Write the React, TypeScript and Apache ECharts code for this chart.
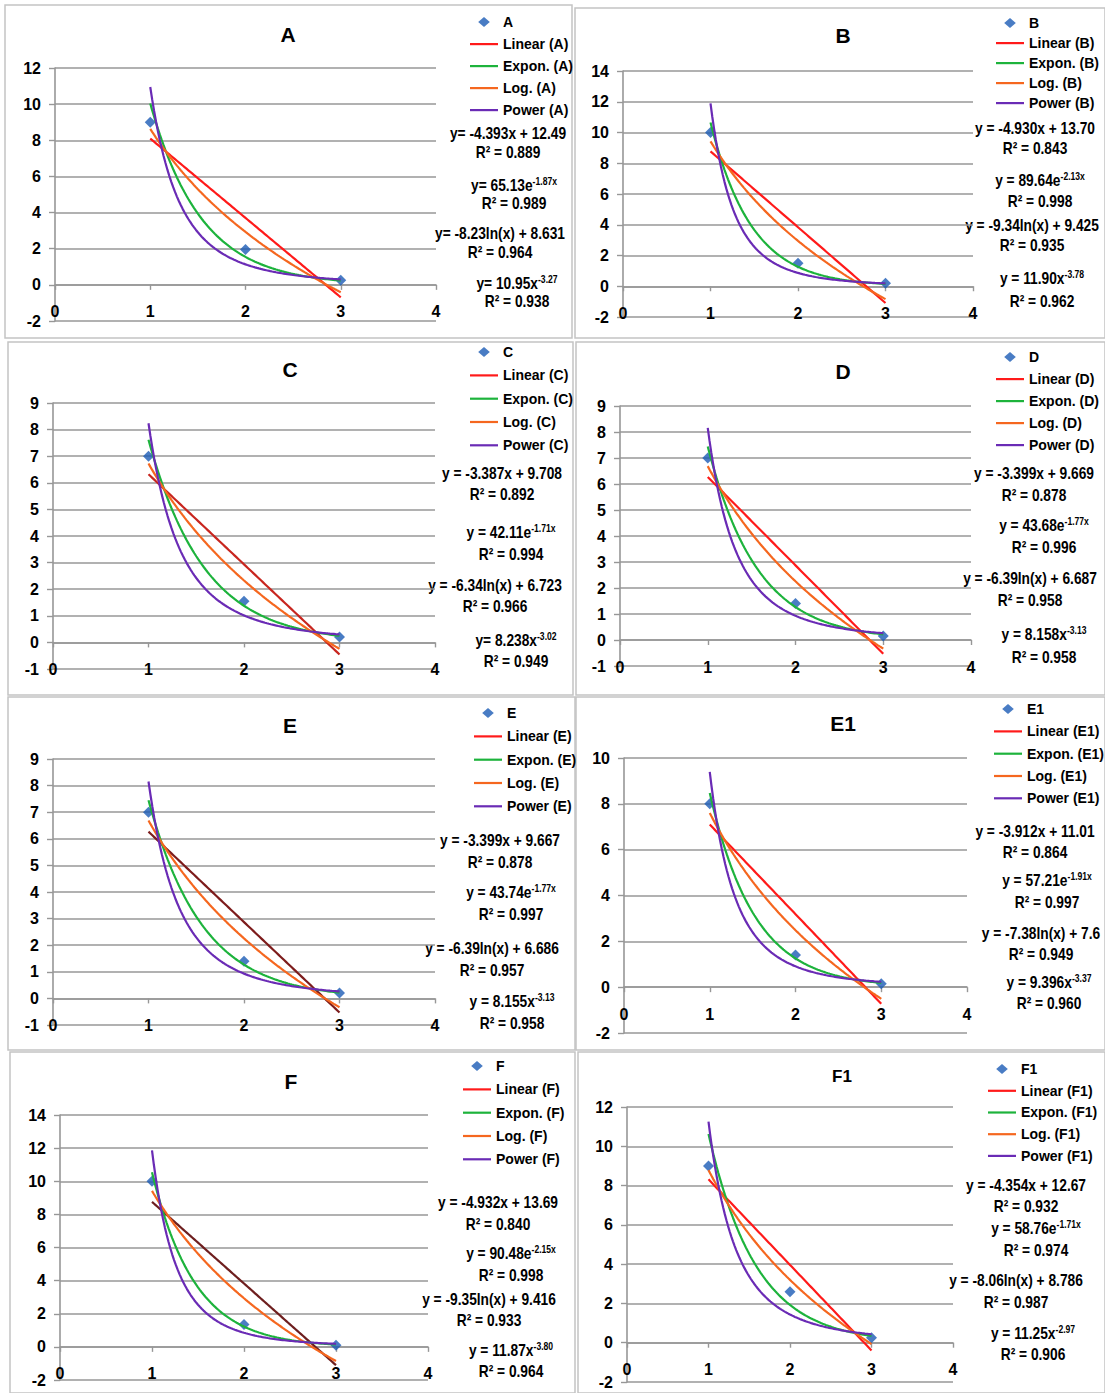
import React, { useEffect, useRef } from "react";
import * as echarts from "echarts";

// ---------- DATA ----------
const panelNames = ["A", "B", "C", "D", "E", "E1", "F", "F1"];
const xPoints = [1, 2, 3];
const pointsA = [9, 1.95, 0.25];
const pointsB = [10, 1.5, 0.2];
const pointsC = [7, 1.55, 0.2];
const pointsD = [7, 1.4, 0.15];
const pointsE = [7, 1.4, 0.2];
const pointsE1 = [8, 1.4, 0.15];
const pointsF = [10, 1.35, 0.1];
const pointsF1 = [9, 2.6, 0.25];
const panelPoints = [pointsA, pointsB, pointsC, pointsD, pointsE, pointsE1, pointsF, pointsF1];

const yMin = [-2, -2, -1, -1, -1, -2, -2, -2];
const yMax = [12, 14, 9, 9, 9, 10, 14, 12];
const yStep = [2, 2, 1, 1, 1, 2, 2, 2];
const xMin = 0;
const xMax = 4;
const xStep = 1;

// trendline coefficients as displayed
const linearSlope = [-4.393, -4.93, -3.387, -3.399, -3.399, -3.912, -4.932, -4.354];
const linearIntercept = [12.49, 13.7, 9.708, 9.669, 9.667, 11.01, 13.69, 12.67];
const expCoef = [65.13, 89.64, 42.11, 43.68, 43.74, 57.21, 90.48, 58.76];
const expRate = [-1.87, -2.13, -1.71, -1.77, -1.77, -1.91, -2.15, -1.71];
const logCoef = [-8.23, -9.34, -6.34, -6.39, -6.39, -7.38, -9.35, -8.06];
const logConst = [8.631, 9.425, 6.723, 6.687, 6.686, 7.6, 9.416, 8.786];
const powCoef = [10.95, 11.9, 8.238, 8.158, 8.155, 9.396, 11.87, 11.25];
const powExp = [-3.27, -3.78, -3.02, -3.13, -3.13, -3.37, -3.8, -2.97];

const r2Linear = ["0.889", "0.843", "0.892", "0.878", "0.878", "0.864", "0.840", "0.932"];
const r2Exp = ["0.989", "0.998", "0.994", "0.996", "0.997", "0.997", "0.998", "0.974"];
const r2Log = ["0.964", "0.935", "0.966", "0.958", "0.957", "0.949", "0.933", "0.987"];
const r2Pow = ["0.938", "0.962", "0.949", "0.958", "0.958", "0.960", "0.964", "0.906"];

const eqLinear = ["y= -4.393x + 12.49", "y = -4.930x + 13.70", "y = -3.387x + 9.708", "y = -3.399x + 9.669", "y = -3.399x + 9.667", "y = -3.912x + 11.01", "y = -4.932x + 13.69", "y = -4.354x + 12.67"];
const eqExpBase = ["y= 65.13e", "y = 89.64e", "y = 42.11e", "y = 43.68e", "y = 43.74e", "y = 57.21e", "y = 90.48e", "y = 58.76e"];
const eqExpSup = ["-1.87x", "-2.13x", "-1.71x", "-1.77x", "-1.77x", "-1.91x", "-2.15x", "-1.71x"];
const eqLog = ["y= -8.23ln(x) + 8.631", "y = -9.34ln(x) + 9.425", "y = -6.34ln(x) + 6.723", "y = -6.39ln(x) + 6.687", "y = -6.39ln(x) + 6.686", "y = -7.38ln(x) + 7.6", "y = -9.35ln(x) + 9.416", "y = -8.06ln(x) + 8.786"];
const eqPowBase = ["y= 10.95x", "y = 11.90x", "y= 8.238x", "y = 8.158x", "y = 8.155x", "y = 9.396x", "y = 11.87x", "y = 11.25x"];
const eqPowSup = ["-3.27", "-3.78", "-3.02", "-3.13", "-3.13", "-3.37", "-3.80", "-2.97"];

// ---------- LAYOUT ----------
const W = 1105;
const H = 1393;
const gridLeft = [55, 623, 53, 620, 53, 624, 60, 627];
const gridTop = [68, 71, 403, 406, 759, 758, 1115, 1107];
const gridWidth = [381, 350, 382, 351, 382, 343, 368, 326];
const gridHeight = [253, 246, 266, 260, 266, 275, 265, 275];
const titleX = [288, 843, 290, 843, 290, 843, 291, 842];
const titleY = [34, 35, 369, 371, 725, 723, 1081, 1076];
const titleSize = [21, 21, 21, 21, 21, 21, 21, 17];
const legendLeft = [470, 996, 470, 996, 474, 994, 463, 988];
const legendFirstY = [22, 23, 352, 357, 713, 709, 1066, 1069];
const legendStep = [22, 20, 23.3, 22, 23.3, 22.3, 23.3, 21.7];
const eqCX = [
  [508, 514, 500, 517],
  [1035, 1040, 1032, 1042],
  [502, 511, 495, 516],
  [1034, 1044, 1030, 1044],
  [500, 511, 492, 512],
  [1035, 1047, 1041, 1049],
  [498, 511, 489, 511],
  [1026, 1036, 1016, 1033],
];
const eqY = [
  [133, 152, 185, 203, 233, 252, 283, 301],
  [128, 148, 180, 201, 225, 245, 278, 301],
  [473, 494, 532, 554, 585, 606, 640, 661],
  [473, 495, 525, 547, 578, 600, 634, 657],
  [840, 862, 892, 914, 948, 970, 1001, 1023],
  [831, 852, 880, 902, 933, 954, 982, 1003],
  [1202, 1224, 1253, 1275, 1299, 1320, 1350, 1371],
  [1185, 1206, 1228, 1250, 1280, 1302, 1333, 1354],
];
const borders = [
  [5, 5, 567, 333],
  [575, 8, 530, 330],
  [8, 342, 565, 353],
  [576, 342, 529, 353],
  [8, 697, 567, 353],
  [576, 697, 529, 353],
  [10, 1052, 565, 341],
  [578, 1052, 527, 341],
];

// ---------- STYLE ----------
const SANS = "'Liberation Sans', Arial, sans-serif";
const GRID_COLOR = "#979797";
const C_POINT = "#1c5bb5";
const C_LINEAR = "#ff1a1a";
const C_EXP = "#1db33c";
const C_LOG = "#f5671f";
const C_POW = "#6a2bb5";
const linearPlotColor = [C_LINEAR, C_LINEAR, "#c8261f", C_LINEAR, "#7d1c1c", C_LINEAR, "#6e1f1f", C_LINEAR];
// legend icons: a 28x10 box (corner moves fix the bounding box)
const ICON_DIAMOND = "path://M0,0 M28,10 M14,-0.5 L19.8,5 L14,10.5 L8.2,5 Z";
const ICON_LINE = "path://M0,0 M28,10 M0,4 L28,4 L28,6.2 L0,6.2 Z";

function sampleCurve(f: (x: number) => number) {
  const out: number[][] = [];
  for (let k = 0; k <= 100; k++) {
    const x = 1 + (k * 2) / 100;
    out.push([x, f(x)]);
  }
  return out;
}

function buildOption() {
  const grid: any[] = [];
  const xAxis: any[] = [];
  const yAxis: any[] = [];
  const series: any[] = [];
  const legend: any[] = [];
  const graphic: any[] = [];

  panelNames.forEach((n, i) => {
    grid.push({ left: gridLeft[i], top: gridTop[i], width: gridWidth[i], height: gridHeight[i], containLabel: false });
    const zeroFromBottom = (gridHeight[i] * (0 - yMin[i])) / (yMax[i] - yMin[i]);
    xAxis.push({
      type: "value",
      gridIndex: i,
      min: xMin,
      max: xMax,
      interval: xStep,
      position: "bottom",
      offset: -zeroFromBottom,
      axisLine: { show: true, onZero: false, lineStyle: { color: GRID_COLOR, width: 1.6 } },
      axisTick: { show: true, length: 5, lineStyle: { color: GRID_COLOR, width: 1.4 } },
      splitLine: { show: false },
      axisLabel: { margin: 19, color: "#000", fontWeight: "bold", fontSize: 16, fontFamily: SANS },
    });
    yAxis.push({
      type: "value",
      gridIndex: i,
      min: yMin[i],
      max: yMax[i],
      interval: yStep[i],
      axisLine: { show: true, onZero: false, lineStyle: { color: GRID_COLOR, width: 1.6 } },
      axisTick: { show: true, length: 6, lineStyle: { color: GRID_COLOR, width: 1.4 } },
      splitLine: { show: true, lineStyle: { color: GRID_COLOR, width: 1.6 } },
      axisLabel: { margin: 14, color: "#000", fontWeight: "bold", fontSize: 16, fontFamily: SANS },
    });

    const pts = panelPoints[i];
    series.push({
      name: n,
      type: "scatter",
      xAxisIndex: i,
      yAxisIndex: i,
      symbol: "diamond",
      symbolSize: 11,
      itemStyle: { color: C_POINT },
      z: 2,
      data: xPoints.map((x, j) => [x, pts[j]]),
    });
    const trend = (name: string, color: string, f: (x: number) => number) => ({
      name,
      type: "line",
      xAxisIndex: i,
      yAxisIndex: i,
      symbol: "none",
      showSymbol: false,
      smooth: false,
      z: 3,
      lineStyle: { color, width: 2.2 },
      itemStyle: { color },
      data: sampleCurve(f),
    });
    series.push(trend(`Linear (${n})`, linearPlotColor[i], (x) => linearSlope[i] * x + linearIntercept[i]));
    series.push(trend(`Expon. (${n})`, C_EXP, (x) => expCoef[i] * Math.exp(expRate[i] * x)));
    series.push(trend(`Log. (${n})`, C_LOG, (x) => logCoef[i] * Math.log(x) + logConst[i]));
    series.push(trend(`Power (${n})`, C_POW, (x) => powCoef[i] * Math.pow(x, powExp[i])));

    legend.push({
      orient: "vertical",
      left: legendLeft[i],
      top: legendFirstY[i] - 7,
      padding: 0,
      itemWidth: 28,
      itemHeight: 10,
      itemGap: legendStep[i] - 14,
      symbolKeepAspect: false,
      selectedMode: false,
      textStyle: { color: "#000", fontWeight: "bold", fontSize: 14, lineHeight: 14, fontFamily: SANS },
      data: [
        { name: n, icon: ICON_DIAMOND, itemStyle: { color: C_POINT } },
        { name: `Linear (${n})`, icon: ICON_LINE, itemStyle: { color: C_LINEAR, borderWidth: 0 } },
        { name: `Expon. (${n})`, icon: ICON_LINE, itemStyle: { color: C_EXP, borderWidth: 0 } },
        { name: `Log. (${n})`, icon: ICON_LINE, itemStyle: { color: C_LOG, borderWidth: 0 } },
        { name: `Power (${n})`, icon: ICON_LINE, itemStyle: { color: C_POW, borderWidth: 0 } },
      ],
    });

    // panel border
    const b = borders[i];
    graphic.push({
      type: "rect",
      shape: { x: b[0], y: b[1], width: b[2], height: b[3] },
      style: { fill: "none", stroke: "#c4c4c4", lineWidth: 1.5 },
      silent: true,
      z: -1,
    });
    // title
    graphic.push({
      type: "text",
      x: titleX[i],
      y: titleY[i],
      style: {
        text: n,
        align: "center",
        verticalAlign: "middle",
        fill: "#000",
        fontSize: titleSize[i],
        fontWeight: "bold",
        fontFamily: SANS,
      },
    });
    // equations
    const eqStyle = { fill: "#000", fontWeight: "bold", fontSize: 16, fontFamily: SANS };
    const SX = 0.86;
    const plain = (text: string, x: number, y: number) => ({
      type: "text",
      x,
      y,
      scaleX: SX,
      style: { ...eqStyle, text, align: "center", verticalAlign: "middle" },
    });
    const sup = (base: string, s: string, x: number, y: number) => ({
      type: "text",
      x,
      y,
      scaleX: SX,
      style: {
        ...eqStyle,
        text: `{b|${base}}{s|${s}}`,
        align: "center",
        verticalAlign: "middle",
        rich: {
          b: { fontSize: 16, fontWeight: "bold", fontFamily: SANS, lineHeight: 17, verticalAlign: "bottom", fill: "#000" },
          s: { fontSize: 10, fontWeight: "bold", fontFamily: SANS, lineHeight: 12, verticalAlign: "top", fill: "#000" },
        },
      },
    });
    const cx = eqCX[i];
    const ys = eqY[i];
    graphic.push(plain(eqLinear[i], cx[0], ys[0]));
    graphic.push(plain(`R² = ${r2Linear[i]}`, cx[0], ys[1]));
    graphic.push(sup(eqExpBase[i], eqExpSup[i], cx[1], ys[2]));
    graphic.push(plain(`R² = ${r2Exp[i]}`, cx[1], ys[3]));
    graphic.push(plain(eqLog[i], cx[2], ys[4]));
    graphic.push(plain(`R² = ${r2Log[i]}`, cx[2], ys[5]));
    graphic.push(sup(eqPowBase[i], eqPowSup[i], cx[3], ys[6]));
    graphic.push(plain(`R² = ${r2Pow[i]}`, cx[3], ys[7]));
  });

  return {
    animation: false,
    backgroundColor: "#ffffff",
    grid,
    xAxis,
    yAxis,
    series,
    legend,
    graphic: { elements: graphic },
  };
}

export default function App() {
  const ref = useRef<HTMLDivElement>(null);
  useEffect(() => {
    if (!ref.current) return;
    const chart = echarts.init(ref.current, null, { renderer: "svg", width: W, height: H });
    chart.setOption(buildOption());
    return () => {
      chart.dispose();
    };
  }, []);
  return (
    <div
      ref={ref}
      style={{ position: "absolute", left: 0, top: 0, width: W, height: H, background: "#fff" }}
    />
  );
}
